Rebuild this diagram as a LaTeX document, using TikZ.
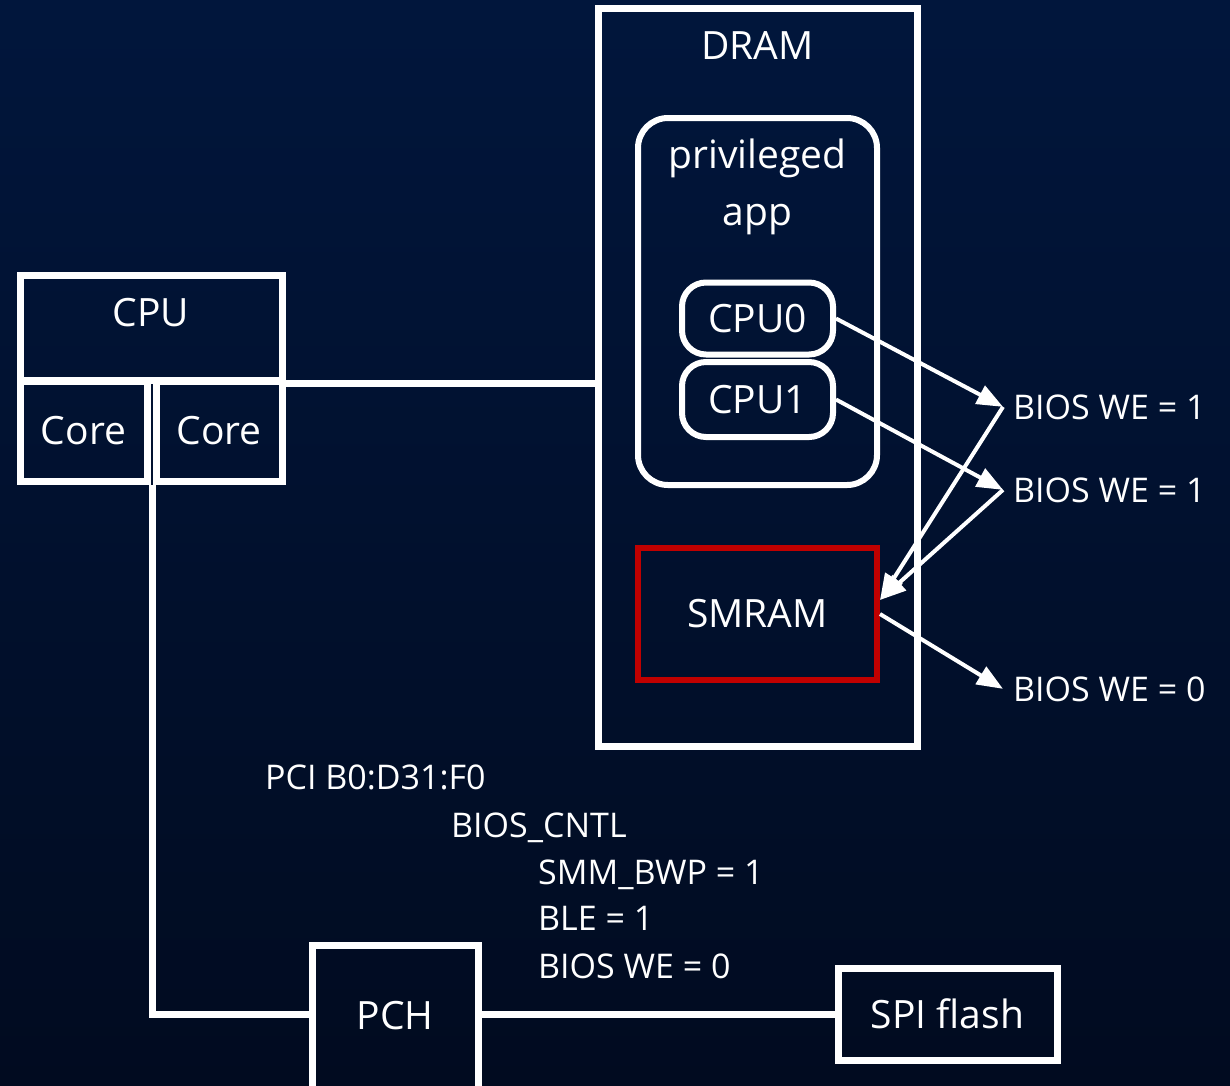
\documentclass[tikz,border=0pt]{standalone}
\usepackage{fontspec}
\setmainfont{Open Sans}
\usetikzlibrary{arrows.meta,calc}
\definecolor{bgtop}{RGB}{1,22,60}
\definecolor{bgbot}{RGB}{1,11,32}
\definecolor{smmred}{RGB}{192,0,0}
\newcommand{\bigtxt}{\fontsize{39}{57}\selectfont}
\newcommand{\smalltxt}{\fontsize{34}{40}\selectfont}

\begin{document}
\begin{tikzpicture}[x=1pt, y=-1pt,
    box/.style={draw=white, line width=7pt, inner sep=0pt, text=white, font=\bigtxt},
    rbox/.style={box, line width=6pt, rounded corners=30pt},
    lbl/.style={text=white, font=\bigtxt, anchor=center},
    note/.style={text=white, font=\smalltxt, inner sep=0pt, anchor=base west},
    wire/.style={white, line width=7pt},
    ptr/.style={white, line width=4pt, -{Triangle[length=26pt,width=20pt]}}]
    % Background
    \useasboundingbox (0,0) rectangle (1230,1085);
    \fill[top color=bgtop, bottom color=bgbot] (0,0) rectangle (1230,1085);

    % CPU
    \node[box, minimum width=262pt, minimum height=105pt, label={[lbl, yshift=-41pt]north:CPU}] (cpu) at (151,327.5) {};
    \node[box, minimum width=127pt, minimum height=100pt] (lcore) at (83.5,431) {Core};
    \node[box, minimum width=126pt, minimum height=100pt] (rcore) at (219,431) {Core};

    % DRAM
    \node[box, minimum width=319pt, minimum height=738pt, label={[lbl, yshift=-41pt]north:DRAM}] (dram) at (757.5,377) {};
    \node[rbox, minimum width=239pt, minimum height=367pt, label={[lbl, align=center, yshift=-72pt]north:privileged\\app}] (app) at (757.5,301.5) {};
    \node[rbox, rounded corners=24pt, minimum width=151pt, minimum height=72pt] (cpuz) at (757.5,318.5) {CPU0};
    \node[rbox, rounded corners=24pt, minimum width=151pt, minimum height=75pt] (cpuo) at (757.5,399.5) {CPU1};
    \node[box, draw=smmred, line width=6pt, minimum width=239pt, minimum height=132pt] (smram) at (757.5,614) {SMRAM};

    % Write enable states
    \node[note, inner xsep=10pt] (we1) at (1003,419) {BIOS WE = 1};
    \node[note, inner xsep=10pt] (we2) at (1003,502) {BIOS WE = 1};
    \node[note, inner xsep=10pt] (we3) at (1003,701) {BIOS WE = 0};

    % PCH and flash
    \node[box, minimum width=166pt, minimum height=150pt, text depth=10pt] (pch) at (395,1020) {PCH};
    \node[box, minimum width=219pt, minimum height=92pt] (spi) at (947.5,1014) {SPI flash};

    % Register
    \node[note] (pci) at (265,789) {PCI B0:D31:F0};
    \node[note] (bcntl) at (451,837) {BIOS\_CNTL};
    \node[note] (bwp) at (538,884) {SMM\_BWP = 1};
    \node[note] (ble) at (538,930) {BLE = 1};
    \node[note] (bwe) at (538,978) {BIOS WE = 0};

    % Buses
    \draw[wire] (cpu.south east) -- (cpu.south east -| dram.west);
    \draw[wire] (rcore.south west) |- (pch.west |- spi.west);
    \draw[wire] (pch.east |- spi.west) -- (spi.west);

    % Arrows
    \draw[ptr] (cpuz.east) -- (we1.west);
    \draw[ptr] (cpuo.east) -- (we2.west);
    \draw[ptr] (we1.west) -- ([yshift=14pt]smram.east);
    \draw[ptr] (we2.west) -- ([yshift=14pt]smram.east);
    \draw[ptr] (smram.east) -- (we3.west);
\end{tikzpicture}
\end{document}
